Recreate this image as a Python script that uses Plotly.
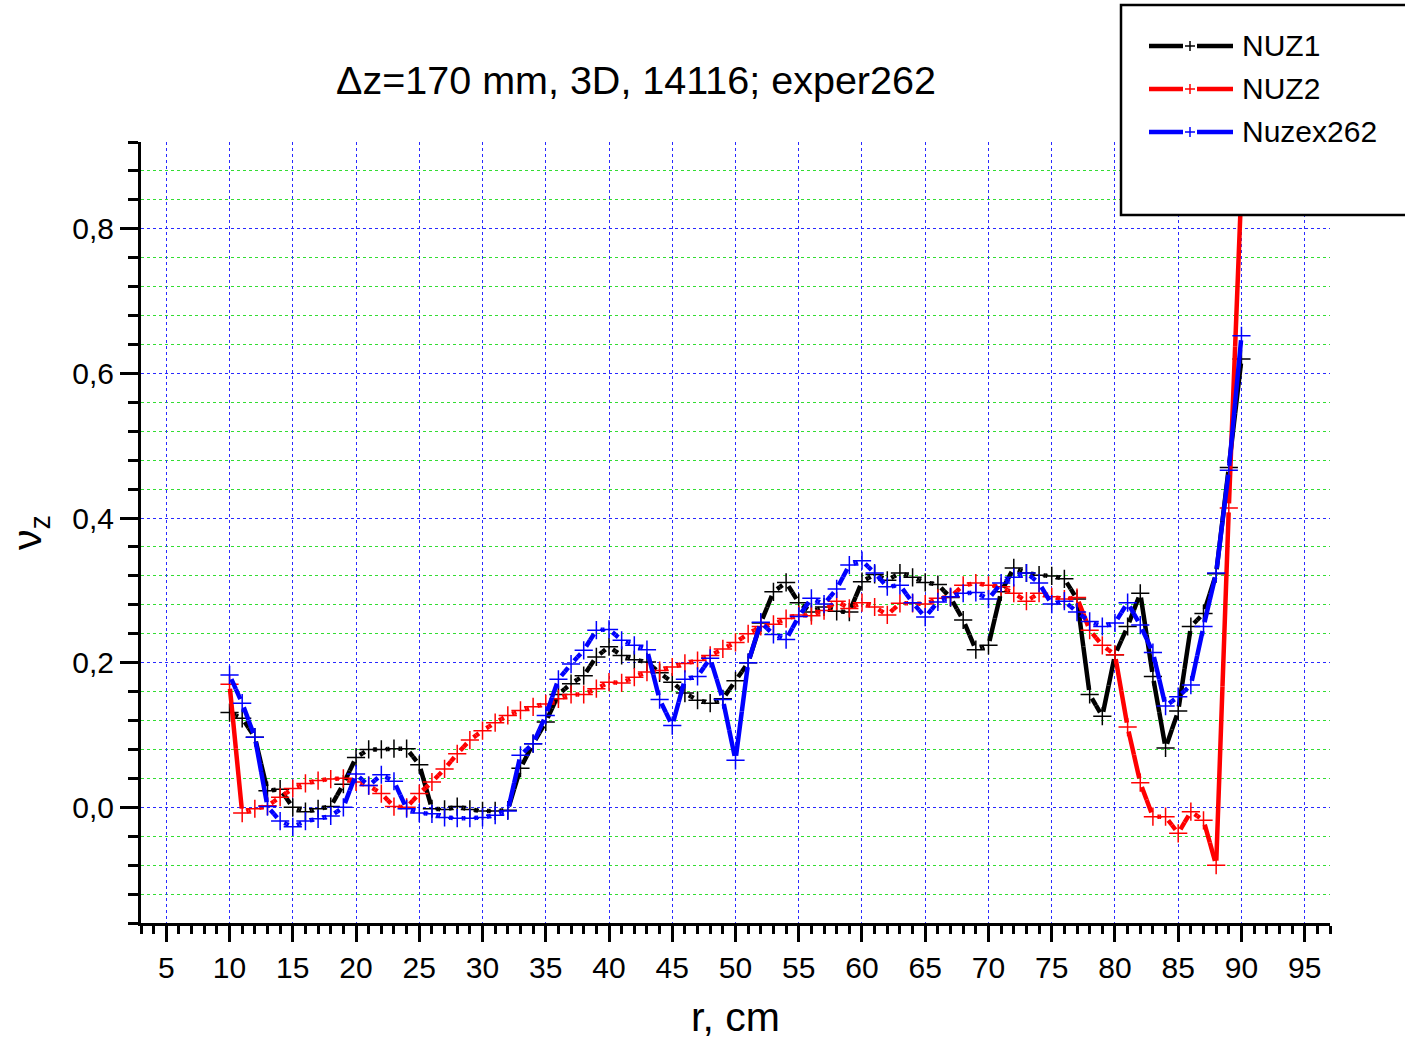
import plotly.graph_objects as go

# radius grid, cm
r_cm = list(range(10, 91))

nuz1 = [
    0.131, 0.123, 0.097, 0.023, 0.025, 0.000, -0.006, -0.002, 0.001, 0.032,
    0.069, 0.080, 0.080, 0.081, 0.081, 0.059, -0.002, -0.003, 0.001, -0.003,
    -0.005, -0.005, -0.004, 0.054, 0.088, 0.118, 0.156, 0.171, 0.182, 0.208,
    0.222, 0.210, 0.204, 0.201, 0.186, 0.173, 0.158, 0.148, 0.144, 0.150,
    0.175, 0.200, 0.255, 0.298, 0.311, 0.283, 0.270, 0.277, 0.271, 0.270,
    0.312, 0.322, 0.314, 0.324, 0.318, 0.311, 0.308, 0.290, 0.259, 0.218,
    0.224, 0.298, 0.331, 0.324, 0.321, 0.320, 0.316, 0.288, 0.156, 0.126,
    0.211, 0.250, 0.296, 0.181, 0.082, 0.133, 0.250, 0.268, 0.323, 0.470,
    0.620,
]

nuz2 = [
    0.170, -0.008, -0.002, 0.002, 0.014, 0.026, 0.033, 0.037, 0.039, 0.040,
    0.035, 0.030, 0.019, 0.001, 0.000, 0.019, 0.035, 0.053, 0.074, 0.093,
    0.106, 0.117, 0.127, 0.134, 0.139, 0.143, 0.150, 0.156, 0.156, 0.164,
    0.173, 0.172, 0.180, 0.187, 0.189, 0.194, 0.199, 0.203, 0.210, 0.219,
    0.228, 0.240, 0.250, 0.253, 0.261, 0.266, 0.265, 0.272, 0.285, 0.275,
    0.283, 0.277, 0.266, 0.282, 0.282, 0.281, 0.289, 0.291, 0.307, 0.310,
    0.307, 0.305, 0.296, 0.285, 0.296, 0.291, 0.288, 0.290, 0.245, 0.224,
    0.211, 0.111, 0.034, -0.013, -0.013, -0.036, -0.006, -0.018, -0.080, 0.414,
    0.860,
]

nuzex262 = [
    0.183, 0.144, 0.097, 0.001, -0.019, -0.027, -0.019, -0.016, -0.012, 0.000,
    0.046, 0.030, 0.045, 0.036, -0.002, -0.008, -0.009, -0.014, -0.015, -0.015,
    -0.014, -0.011, -0.005, 0.072, 0.088, 0.127, 0.177, 0.198, 0.217, 0.245,
    0.246, 0.231, 0.224, 0.218, 0.149, 0.113, 0.177, 0.181, 0.206, 0.149,
    0.065, 0.200, 0.256, 0.239, 0.232, 0.264, 0.289, 0.281, 0.302, 0.335,
    0.341, 0.324, 0.305, 0.307, 0.283, 0.263, 0.284, 0.291, 0.296, 0.297,
    0.288, 0.310, 0.318, 0.324, 0.310, 0.281, 0.285, 0.270, 0.257, 0.250,
    0.255, 0.283, 0.252, 0.214, 0.140, 0.153, 0.169, 0.250, 0.324, 0.466,
    0.652,
]

series_names = ["NUZ1", "NUZ2", "Nuzex262"]
series_values = [nuz1, nuz2, nuzex262]
series_colors = ["#000000", "#ff0000", "#0000ff"]

x_tick_values = list(range(5, 100, 5))
y_tick_values = [0.0, 0.2, 0.4, 0.6, 0.8]

title_text = "\u0394z=170 mm, 3D, 14116; exper262"
x_title = "r, cm"
y_title = "\u03bd<sub>z</sub>"

FONT = "Liberation Sans, Arial, Helvetica, sans-serif"
W, H = 1405, 1050
L, R, T, B = 141, 75, 142, 127

# connecting line leaves a small gap around every symbol: each segment is
# split at its midpoint into two sub-paths that start at a data point, and
# the dash pattern opens each sub-path with a short blank
GAP_DASH = "0px,4.5px,4000px"


def px_x(px):
    return (px - L) / (W - L - R)


def px_y(py):
    return (H - B - py) / (H - T - B)


def gapped_path(xs, ys):
    gx, gy = [], []
    for i in range(len(xs) - 1):
        mx = (xs[i] + xs[i + 1]) / 2
        my = (ys[i] + ys[i + 1]) / 2
        gx += [xs[i], mx, None, xs[i + 1], mx, None]
        gy += [ys[i], my, None, ys[i + 1], my, None]
    return gx, gy


fig = go.Figure()

for name, vals, col in zip(series_names, series_values, series_colors):
    lx, ly = gapped_path(r_cm, vals)
    fig.add_trace(go.Scatter(
        x=lx, y=ly, name=name, mode="lines", connectgaps=False,
        line=dict(color=col, width=4.5, dash=GAP_DASH),
        showlegend=False, hoverinfo="skip",
    ))
    fig.add_trace(go.Scatter(
        x=r_cm, y=vals, name=name, mode="markers",
        marker=dict(symbol="cross-thin", size=13,
                    line=dict(width=1.5, color=col)),
        showlegend=False,
    ))

blue_grid = "#2a2aff"
green_grid = "#33dd33"

fig.update_xaxes(
    range=[3, 97], tickmode="array", tickvals=x_tick_values,
    showline=True, linewidth=3, linecolor="black", mirror=False,
    ticks="outside", ticklen=16, tickwidth=3, tickcolor="black",
    showgrid=True, gridcolor=blue_grid, griddash="dot", gridwidth=1.3,
    zeroline=False,
    tickfont=dict(family=FONT, size=30, color="black"),
    minor=dict(dtick=1, tick0=0, ticks="outside", ticklen=8, tickwidth=3,
               tickcolor="black", showgrid=False),
    title=dict(text=x_title, font=dict(family=FONT, size=41, color="black"),
               standoff=20),
)

fig.update_yaxes(
    range=[-0.16, 0.92], tickmode="array", tickvals=y_tick_values,
    tickformat=".1f",
    showline=True, linewidth=3, linecolor="black", mirror=False,
    ticks="outside", ticklen=18, tickwidth=3, tickcolor="black",
    showgrid=True, gridcolor=blue_grid, griddash="dot", gridwidth=1.3,
    zeroline=False,
    tickfont=dict(family=FONT, size=30, color="black"),
    minor=dict(dtick=0.04, tick0=0, ticks="outside", ticklen=10, tickwidth=3,
               tickcolor="black", showgrid=True, gridcolor=green_grid,
               griddash="dot", gridwidth=1.3),
    title=dict(text=y_title, font=dict(family=FONT, size=41, color="black"),
               standoff=18),
)

# legend frame and entries
shapes = [dict(type="rect", xref="paper", yref="paper", layer="above",
               x0=px_x(1121), x1=px_x(1412), y0=px_y(215), y1=px_y(5),
               line=dict(color="black", width=2.5), fillcolor="white")]
annotations = []
row_y = [46, 89, 132]
for name, col, py in zip(series_names, series_colors, row_y):
    for a, b in ((1149, 1183), (1197, 1233)):
        shapes.append(dict(type="line", xref="paper", yref="paper",
                           layer="above", x0=px_x(a), x1=px_x(b),
                           y0=px_y(py), y1=px_y(py),
                           line=dict(color=col, width=4.5)))
    shapes.append(dict(type="line", xref="paper", yref="paper", layer="above",
                       x0=px_x(1185), x1=px_x(1195), y0=px_y(py), y1=px_y(py),
                       line=dict(color=col, width=1.5)))
    shapes.append(dict(type="line", xref="paper", yref="paper", layer="above",
                       x0=px_x(1190), x1=px_x(1190), y0=px_y(py - 5),
                       y1=px_y(py + 5), line=dict(color=col, width=1.5)))
    annotations.append(dict(text=name, xref="paper", yref="paper",
                            x=px_x(1240), y=px_y(py), xanchor="left",
                            yanchor="middle", showarrow=False,
                            font=dict(family=FONT, size=30, color="black")))

fig.update_layout(
    width=W, height=H,
    margin=dict(l=L, r=R, t=T, b=B, pad=0),
    paper_bgcolor="white", plot_bgcolor="white",
    separators=", ",
    showlegend=False,
    title=dict(text=title_text, x=636 / W, xanchor="center",
               y=1 - 80 / H, yanchor="middle",
               font=dict(family=FONT, size=39.5, color="black")),
    shapes=shapes,
    annotations=annotations,
)

fig.write_html("out.html")
